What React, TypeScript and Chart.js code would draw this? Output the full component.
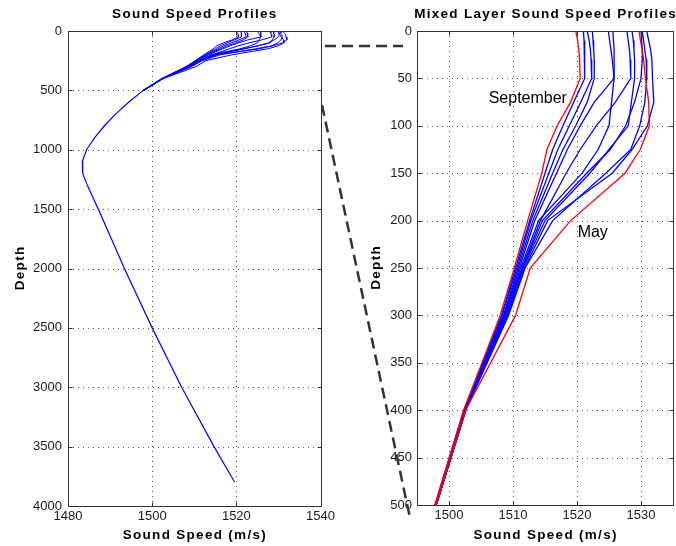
import React, { useEffect, useRef } from 'react';
import { Chart, registerables } from 'chart.js';

Chart.register(...registerables);

// ---------------- data ----------------
const mixedDepths = [0, 10, 20, 30, 50, 75, 100, 125, 150, 200, 250, 300, 400, 500];

const septemberSpeeds = [1519.8, 1520.1, 1520.3, 1520.4, 1520.5, 1519.0, 1516.9, 1515.3, 1514.5, 1512.3, 1510.2, 1508.0, 1502.3, 1497.8];
const maySpeeds = [1529.7, 1529.9, 1530.2, 1530.4, 1530.7, 1531.2, 1531.3, 1529.9, 1527.5, 1519.0, 1512.7, 1510.4, 1502.6, 1498.0];

const profileB1 = [1521.0, 1521.1, 1521.2, 1521.2, 1521.2, 1519.5, 1517.8, 1516.2, 1515.0, 1512.6, 1510.4, 1508.2, 1502.3, 1497.8];
const profileB2 = [1521.6, 1521.9, 1522.1, 1522.2, 1522.3, 1520.6, 1518.8, 1517.0, 1515.6, 1512.8, 1510.6, 1508.3, 1502.4, 1497.9];
const profileB3 = [1522.4, 1522.5, 1522.6, 1522.7, 1522.7, 1521.6, 1519.8, 1517.8, 1516.2, 1513.1, 1510.8, 1508.5, 1502.5, 1497.9];
const profileB4 = [1524.9, 1525.1, 1525.3, 1525.5, 1525.8, 1522.7, 1520.5, 1518.5, 1516.8, 1513.4, 1511.0, 1508.6, 1502.5, 1497.9];
const profileB5 = [1525.6, 1525.7, 1525.8, 1525.8, 1525.8, 1525.4, 1525.0, 1523.3, 1520.8, 1514.0, 1511.2, 1508.7, 1502.5, 1498.0];
const profileB6 = [1527.8, 1528.0, 1528.2, 1528.3, 1528.4, 1526.0, 1523.0, 1520.5, 1518.3, 1514.3, 1511.4, 1508.8, 1502.6, 1498.0];
const profileB7 = [1528.6, 1528.8, 1528.9, 1529.0, 1529.0, 1528.5, 1528.0, 1525.0, 1522.0, 1515.0, 1511.6, 1509.0, 1502.6, 1498.0];
const profileB8 = [1530.0, 1530.1, 1530.2, 1530.2, 1530.0, 1529.0, 1527.6, 1525.2, 1521.5, 1514.6, 1511.5, 1509.0, 1502.6, 1498.0];
const profileB9 = [1530.2, 1530.4, 1530.6, 1530.8, 1530.9, 1530.6, 1529.8, 1528.4, 1524.5, 1516.2, 1511.9, 1509.3, 1502.6, 1498.0];
const profileB10 = [1530.9, 1531.2, 1531.5, 1531.7, 1531.8, 1532.0, 1531.0, 1528.6, 1525.5, 1515.4, 1511.8, 1509.2, 1502.6, 1498.0];

const deepDepths = [500, 600, 700, 800, 900, 1000, 1100, 1200, 1300, 1400, 1500, 1750, 2000, 2500, 3000, 3500, 3800];
const deepSpeeds = [1497.9, 1494.4, 1491.3, 1488.6, 1486.3, 1484.4, 1483.4, 1483.5, 1484.6, 1485.9, 1487.2, 1490.3, 1493.4, 1500.0, 1507.0, 1514.7, 1519.6];

const leftXTicks = [1480, 1500, 1520, 1540];
const leftYTicks = [0, 500, 1000, 1500, 2000, 2500, 3000, 3500, 4000];
const rightXTicks = [1500, 1510, 1520, 1530];
const rightYTicks = [0, 50, 100, 150, 200, 250, 300, 350, 400, 450, 500];

const leftTitle = 'Sound Speed Profiles';
const rightTitle = 'Mixed Layer Sound Speed Profiles';
const xAxisTitle = 'Sound Speed (m/s)';
const yAxisTitle = 'Depth';

const annotationLabels = ['September', 'May'];
const annotationSpeeds = [1506.2, 1520.1];
const annotationDepths = [71, 213];

// ---------------- helpers ----------------
const BLUE = '#0000ff';
const RED = '#ff0000';
const FONT = '"Liberation Sans", Arial, Helvetica, sans-serif';

const blueProfiles = [profileB1, profileB2, profileB3, profileB4, profileB5, profileB6, profileB7, profileB8, profileB9, profileB10];

function toPoints(speeds: number[], depths: number[]) {
  return speeds.map((s, i) => ({ x: s, y: depths[i] }));
}

function lineDs(points: any[], color: string, width = 1.1) {
  return {
    data: points,
    borderColor: color,
    backgroundColor: color,
    borderWidth: width,
    pointRadius: 0,
    showLine: true,
    fill: false,
    tension: 0,
  };
}

function makeDecor(opts: {
  title: string;
  xTicks: number[];
  yTicks: number[];
  yTitleX: number;
  notes?: boolean;
}) {
  return {
    id: 'decor',
    beforeDatasetsDraw(chart: any) {
      const { ctx, chartArea: a, scales } = chart;
      ctx.save();
      ctx.strokeStyle = '#555';
      ctx.lineWidth = 1;
      ctx.setLineDash([1, 4]);
      opts.xTicks.forEach((v) => {
        const px = Math.round(scales.x.getPixelForValue(v)) + 0.5;
        if (px - a.left < 2 || a.right - px < 2) return;
        ctx.beginPath();
        ctx.moveTo(px, a.top);
        ctx.lineTo(px, a.bottom);
        ctx.stroke();
      });
      opts.yTicks.forEach((v) => {
        const py = Math.round(scales.y.getPixelForValue(v)) + 0.5;
        if (py - a.top < 2 || a.bottom - py < 2) return;
        ctx.beginPath();
        ctx.moveTo(a.left, py);
        ctx.lineTo(a.right, py);
        ctx.stroke();
      });
      ctx.restore();
    },
    afterDraw(chart: any) {
      const { ctx, chartArea: a, scales } = chart;
      ctx.save();
      ctx.strokeStyle = '#333';
      ctx.lineWidth = 1;
      ctx.setLineDash([]);
      const l = Math.round(a.left) + 0.5;
      const r = Math.round(a.right) + 0.5;
      const t = Math.round(a.top) + 0.5;
      const b = Math.round(a.bottom) + 0.5;
      ctx.strokeRect(l, t, r - l, b - t);
      const tl = 4;
      opts.xTicks.forEach((v) => {
        const px = Math.round(scales.x.getPixelForValue(v)) + 0.5;
        ctx.beginPath();
        ctx.moveTo(px, b);
        ctx.lineTo(px, b - tl);
        ctx.moveTo(px, t);
        ctx.lineTo(px, t + tl);
        ctx.stroke();
      });
      opts.yTicks.forEach((v) => {
        const py = Math.round(scales.y.getPixelForValue(v)) + 0.5;
        ctx.beginPath();
        ctx.moveTo(l, py);
        ctx.lineTo(l + tl, py);
        ctx.moveTo(r, py);
        ctx.lineTo(r - tl, py);
        ctx.stroke();
      });
      const cx = (a.left + a.right) / 2;
      const cy = (a.top + a.bottom) / 2;
      ctx.fillStyle = '#000';
      ctx.textAlign = 'center';
      ctx.textBaseline = 'middle';
      (ctx as any).letterSpacing = '1.3px';
      ctx.font = `bold 13.5px ${FONT}`;
      ctx.fillText(opts.title, cx + 0.6, 14);
      ctx.fillText(xAxisTitle, cx + 0.6, 535);
      ctx.save();
      ctx.translate(opts.yTitleX, cy);
      ctx.rotate(-Math.PI / 2);
      ctx.fillText(yAxisTitle, 0.6, 0);
      ctx.restore();
      (ctx as any).letterSpacing = '0px';
      if (opts.notes) {
        ctx.font = `16px ${FONT}`;
        ctx.textAlign = 'left';
        ctx.fillStyle = '#000';
        annotationLabels.forEach((txt, i) => {
          const px = scales.x.getPixelForValue(annotationSpeeds[i]);
          const py = scales.y.getPixelForValue(annotationDepths[i]);
          ctx.fillText(txt, px, py);
        });
      }
      ctx.restore();
    },
  };
}

function scaleOpts(min: number, max: number, ticks: number[], reverse: boolean, pad: number, fit: (s: any) => void) {
  return {
    type: 'linear' as const,
    min,
    max,
    reverse,
    grid: { display: false, drawTicks: false },
    border: { display: false },
    afterBuildTicks: (s: any) => {
      s.ticks = ticks.map((v) => ({ value: v }));
    },
    afterFit: fit,
    ticks: {
      autoSkip: false,
      maxRotation: 0,
      padding: pad,
      color: '#1a1a1a',
      font: { family: FONT, size: 13 },
      callback: (v: any) => String(v),
    },
  };
}

function baseOptions(extra: any) {
  return {
    responsive: false,
    animation: false as const,
    events: [] as any[],
    plugins: { legend: { display: false }, tooltip: { enabled: false }, title: { display: false } },
    ...extra,
  };
}

function LeftChart() {
  const ref = useRef<HTMLCanvasElement>(null);
  useEffect(() => {
    const all = [septemberSpeeds, maySpeeds, ...blueProfiles];
    const datasets = [
      lineDs(toPoints(deepSpeeds, deepDepths), BLUE, 1.2),
      ...all.map((p) => lineDs(toPoints(p, mixedDepths), BLUE, 1)),
    ];
    const chart = new Chart(ref.current!, {
      type: 'scatter',
      data: { datasets },
      options: baseOptions({
        layout: { padding: { left: 0, right: 16, top: 31, bottom: 0 } },
        scales: {
          x: scaleOpts(1480, 1540, leftXTicks, false, 3, (s: any) => { s.height = 40; }),
          y: scaleOpts(0, 4000, leftYTicks, true, 6, (s: any) => { s.width = 68; }),
        },
      }),
      plugins: [makeDecor({ title: leftTitle, xTicks: leftXTicks, yTicks: leftYTicks, yTitleX: 20 })],
    });
    return () => chart.destroy();
  }, []);
  return <canvas ref={ref} width={338} height={546} style={{ position: 'absolute', left: 0, top: 0 }} />;
}

function RightChart() {
  const ref = useRef<HTMLCanvasElement>(null);
  useEffect(() => {
    const datasets = [
      lineDs(toPoints(septemberSpeeds, mixedDepths), RED, 1.3),
      lineDs(toPoints(maySpeeds, mixedDepths), RED, 1.3),
      ...blueProfiles.map((p) => lineDs(toPoints(p, mixedDepths), BLUE, 1.3)),
    ];
    const chart = new Chart(ref.current!, {
      type: 'scatter',
      data: { datasets },
      options: baseOptions({
        layout: { padding: { left: 0, right: 3, top: 31, bottom: 0 } },
        scales: {
          x: scaleOpts(1495, 1535, rightXTicks, false, 3, (s: any) => { s.height = 41; }),
          y: scaleOpts(0, 500, rightYTicks, true, 5, (s: any) => { s.width = 79; }),
        },
      }),
      plugins: [makeDecor({ title: rightTitle, xTicks: rightXTicks, yTicks: rightYTicks, yTitleX: 38, notes: true })],
    });
    return () => chart.destroy();
  }, []);
  return <canvas ref={ref} width={338} height={546} style={{ position: 'absolute', left: 338, top: 0 }} />;
}

export default function App() {
  return (
    <div style={{ position: 'fixed', left: 0, top: 0, width: 676, height: 546, background: '#fff', overflow: 'hidden' }}>
      <LeftChart />
      <RightChart />
      <svg width={676} height={546} style={{ position: 'absolute', left: 0, top: 0, pointerEvents: 'none' }}>
        <line x1={325} y1={46} x2={403} y2={46} stroke="#333" strokeWidth={2.5} strokeDasharray="11 6" />
        <line x1={322} y1={105} x2={410} y2={518} stroke="#333" strokeWidth={2.5} strokeDasharray="11 6" />
      </svg>
    </div>
  );
}
